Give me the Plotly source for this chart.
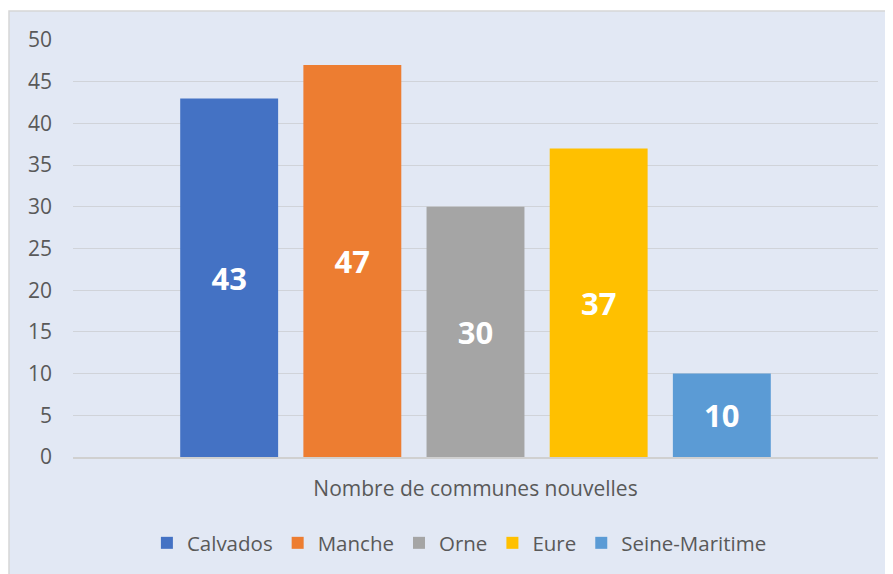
import plotly.graph_objects as go

# Data
category = ['Nombre de communes nouvelles']
departements = ['Calvados', 'Manche', 'Orne', 'Eure', 'Seine-Maritime']
valeurs = [43, 47, 30, 37, 10]
couleurs = ['#4472C4', '#ED7D31', '#A5A5A5', '#FFC000', '#5B9BD5']
y_ticks = [0, 5, 10, 15, 20, 25, 30, 35, 40, 45, 50]

# page body has an 8px margin, so the figure is drawn 8px smaller
W, H = 885, 566
L, R, T, B = 65, 15, 32, 116
pw, ph = W - L - R, H - T - B

fig = go.Figure()
for name, val, col in zip(departements, valeurs, couleurs):
    fig.add_trace(go.Bar(
        x=category,
        y=[val],
        name=name,
        marker=dict(color=col, line=dict(width=0)),
        text=[str(val)],
        textposition='inside',
        insidetextanchor='middle',
        textangle=0,
        textfont=dict(family='Open Sans', size=31, color='white', weight='bold'),
    ))

# chart frame (light blue box, border visible on left and top only)
fig.add_shape(
    type='rect', xref='paper', yref='paper', layer='below',
    x0=(1 - L) / pw, x1=(900 - L) / pw,
    y0=(ph + T - 580) / ph, y1=(ph + T - 3) / ph,
    fillcolor='#E2E8F4', line=dict(color='#D6D6D6', width=1.5),
)

fig.update_layout(
    width=W, height=H,
    margin=dict(l=L, r=R, t=T, b=B),
    paper_bgcolor='white',
    plot_bgcolor='rgba(0,0,0,0)',
    barmode='group',
    bargap=0.235,
    bargroupgap=0.205,
    font=dict(family='Open Sans', color='#595959'),
    showlegend=True,
    legend=dict(
        orientation='h', x=0.48, xanchor='center', y=(T + ph - 535) / ph, yanchor='middle',
        font=dict(size=20.5, color='#595959'), bgcolor='rgba(0,0,0,0)',
        itemwidth=30, traceorder='normal',
    ),
    xaxis=dict(
        showgrid=False, showline=True, linecolor='#D0D0D0', linewidth=1.5,
        tickfont=dict(size=21, color='#595959'), ticks='', ticklabelstandoff=12,
    ),
    yaxis=dict(
        range=[0, 50], tickvals=y_ticks, showgrid=True, gridcolor='#D0D3D9', gridwidth=1.2,
        zeroline=False, showline=False, ticks='',
        tickfont=dict(size=21, color='#595959'), ticklabelstandoff=20,
    ),
)

fig.write_html('out.html')
